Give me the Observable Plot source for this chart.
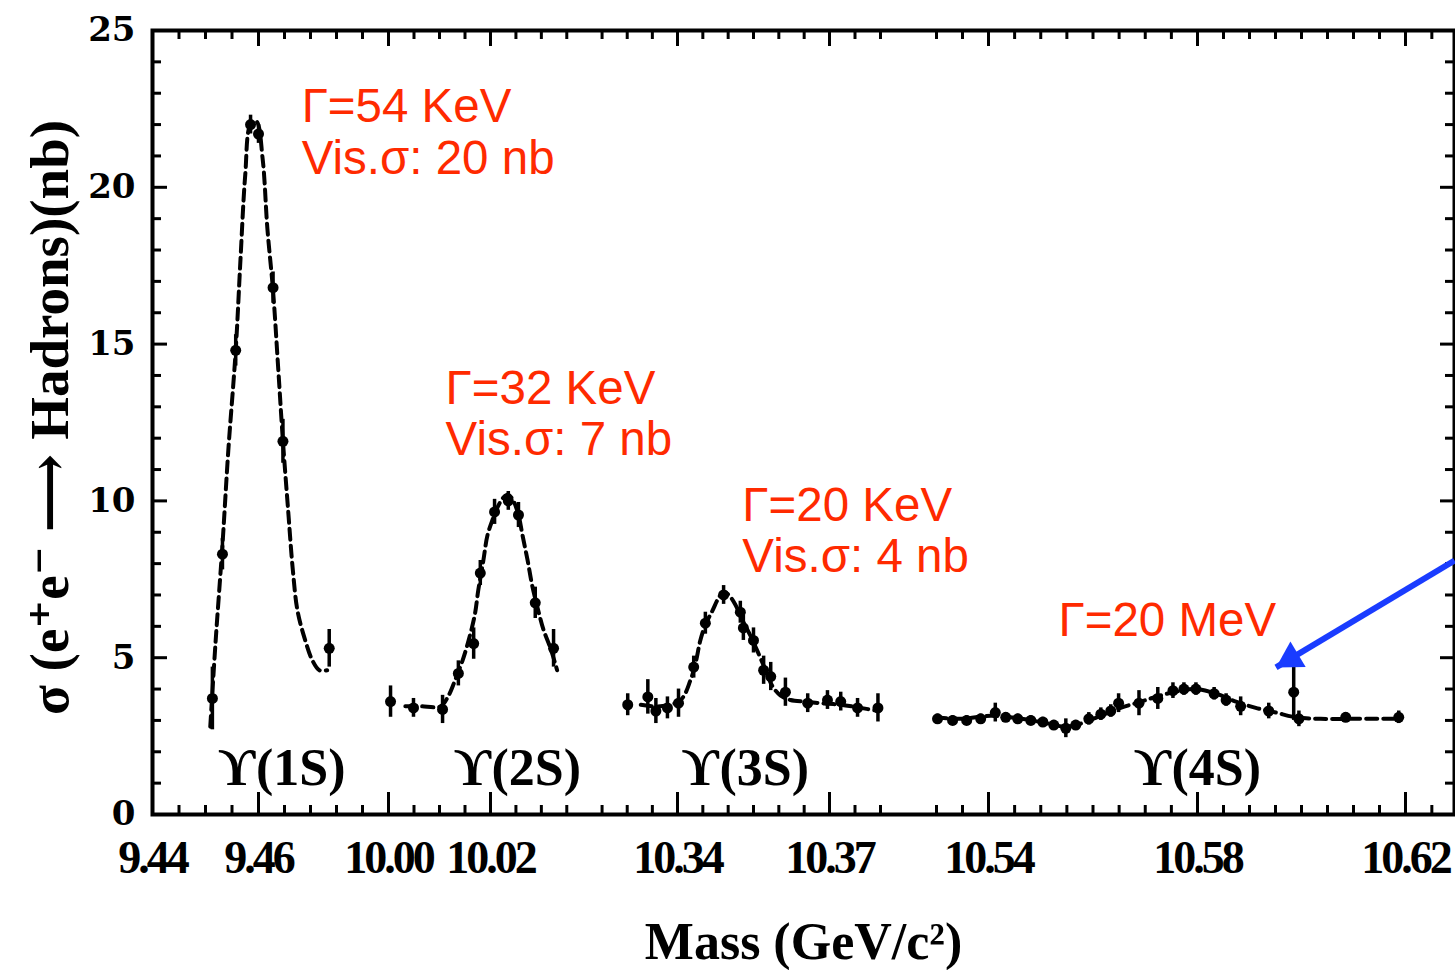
<!DOCTYPE html>
<html><head><meta charset="utf-8">
<script src="https://cdn.jsdelivr.net/npm/d3@7"></script>
<script src="https://cdn.jsdelivr.net/npm/@observablehq/plot@0.6"></script>
<style>
html,body{margin:0;padding:0;background:#fff;overflow:hidden;}
#chart svg{display:block}
g[aria-label="x-axis tick label"] text{letter-spacing:-3px}
</style></head><body><div id="chart"></div>
<script>
// ---- data ----
// Upsilon(1S)
const m1 = [9.4513, 9.4532, 9.4557, 9.4585, 9.4600, 9.4628, 9.4647, 9.4736];
const s1 = [3.7, 8.3, 14.8, 22.0, 21.7, 16.8, 11.9, 5.3];
const e1 = [1.0, 0.5, 0.5, 0.3, 0.3, 0.5, 0.7, 0.6];
const c1m = [9.4509, 9.4519, 9.4532, 9.4543, 9.4557, 9.4566, 9.4575, 9.4585, 9.4596, 9.4608, 9.4617, 9.4628, 9.4638, 9.4647, 9.4657, 9.4666, 9.4675, 9.4689, 9.4704, 9.4717, 9.4732];
const c1s = [2.8, 5.5, 8.6, 11.6, 14.8, 17.7, 20.4, 22.0, 22.1, 20.9, 18.7, 16.7, 14.2, 11.9, 9.7, 7.8, 6.5, 5.6, 4.9, 4.6, 4.6];
// Upsilon(2S)
const m2 = [10.0004, 10.0049, 10.0106, 10.0137, 10.0167, 10.0180, 10.0208, 10.0235, 10.0255, 10.0288, 10.0324];
const s2 = [3.6, 3.4, 3.35, 4.5, 5.45, 7.7, 9.65, 10.0, 9.55, 6.75, 5.3];
const e2 = [0.5, 0.3, 0.45, 0.4, 0.5, 0.4, 0.4, 0.3, 0.4, 0.5, 0.6];
const c2m = [10.0033, 10.0063, 10.0102, 10.0118, 10.0131, 10.0145, 10.0157, 10.0169, 10.0176, 10.0186, 10.0194, 10.0204, 10.0214, 10.0225, 10.0235, 10.0245, 10.0255, 10.0263, 10.0273, 10.0282, 10.0294, 10.0304, 10.0318, 10.0331];
const c2s = [3.45, 3.45, 3.45, 3.8, 4.3, 4.9, 5.55, 6.35, 7.15, 8.1, 8.9, 9.4, 9.8, 10.1, 10.2, 10.0, 9.55, 8.9, 8.1, 7.3, 6.5, 5.9, 5.3, 4.6];
// Upsilon(3S)
const m3 = [10.3301, 10.3341, 10.3357, 10.3380, 10.3402, 10.3432, 10.3455, 10.3491, 10.3524, 10.3530, 10.3550, 10.3570, 10.3584, 10.3613, 10.3657, 10.3696, 10.3722, 10.3755, 10.3795];
const s3 = [3.5, 3.75, 3.3, 3.4, 3.55, 4.7, 6.1, 7.0, 6.45, 5.95, 5.55, 4.6, 4.4, 3.9, 3.55, 3.65, 3.6, 3.4, 3.4];
const e3 = [0.35, 0.55, 0.4, 0.35, 0.45, 0.35, 0.35, 0.3, 0.35, 0.4, 0.4, 0.45, 0.45, 0.45, 0.3, 0.3, 0.3, 0.3, 0.45];
const c3m = [10.3327, 10.3366, 10.3406, 10.3426, 10.3436, 10.3445, 10.3455, 10.3469, 10.3481, 10.3491, 10.3501, 10.3514, 10.3528, 10.3544, 10.3558, 10.3574, 10.3587, 10.3603, 10.3623, 10.3653, 10.3682, 10.3722, 10.3761, 10.3797];
const c3s = [3.5, 3.45, 3.65, 4.3, 4.85, 5.55, 6.05, 6.5, 6.9, 7.1, 7.0, 6.7, 6.2, 5.7, 5.2, 4.6, 4.1, 3.8, 3.65, 3.6, 3.55, 3.5, 3.4, 3.3];
// Upsilon(4S)
const m4 = [10.5302, 10.5331, 10.5358, 10.5385, 10.5413, 10.5433, 10.5456, 10.5481, 10.5504, 10.5525, 10.5548, 10.5567, 10.5592, 10.5615, 10.5634, 10.5649, 10.5688, 10.5724, 10.5753, 10.5774, 10.5797, 10.5832, 10.5855, 10.5883, 10.5937, 10.5985, 10.5995, 10.6085, 10.6187];
const s4 = [3.05, 3.0, 3.0, 3.05, 3.25, 3.1, 3.05, 3.0, 2.95, 2.85, 2.75, 2.85, 3.05, 3.2, 3.3, 3.55, 3.55, 3.7, 3.95, 4.0, 4.0, 3.85, 3.65, 3.45, 3.3, 3.9, 3.05, 3.1, 3.1];
const e4 = [0.15, 0.15, 0.15, 0.15, 0.3, 0.15, 0.15, 0.15, 0.15, 0.15, 0.3, 0.15, 0.2, 0.2, 0.2, 0.3, 0.4, 0.35, 0.25, 0.2, 0.2, 0.2, 0.2, 0.3, 0.25, 0.9, 0.25, 0.15, 0.2];
const c4m = [10.5298, 10.5346, 10.5404, 10.5442, 10.5500, 10.5548, 10.5577, 10.5615, 10.5653, 10.5692, 10.5730, 10.5768, 10.5797, 10.5836, 10.5874, 10.5912, 10.5951, 10.5989, 10.6037, 10.6095, 10.6190];
const c4s = [3.1, 3.05, 3.15, 3.1, 2.95, 2.8, 2.9, 3.15, 3.4, 3.6, 3.8, 3.95, 4.0, 3.85, 3.6, 3.4, 3.25, 3.1, 3.05, 3.05, 3.05];

// axis ticks
const xLabelTicks = [9.44, 9.46, 10.00, 10.02, 10.34, 10.37, 10.54, 10.58, 10.62];
const xMinorTicks = [9.445, 9.45, 9.455, 9.465, 9.47, 9.475, 9.48,
  10.005, 10.01, 10.015, 10.025, 10.03, 10.035,
  10.325, 10.33, 10.335, 10.345, 10.35, 10.355, 10.36, 10.365, 10.375, 10.38,
  10.53, 10.535, 10.545, 10.55, 10.555, 10.56, 10.565, 10.57, 10.575, 10.585, 10.59, 10.595, 10.6, 10.605, 10.61, 10.615, 10.625];
const yMajorTicks = [0, 5, 10, 15, 20, 25];
const yMinorTicks = [1,2,3,4,6,7,8,9,11,12,13,14,16,17,18,19,21,22,23,24];

// annotations
const stateNames = ["ϒ(1S)", "ϒ(2S)", "ϒ(3S)", "ϒ(4S)"];
const stateMass = [9.4645, 10.0253, 10.3534, 10.58];
const stateNb = [0.93, 0.93, 0.93, 0.93];
const noteText = ["Γ=54 KeV\nVis.σ: 20 nb", "Γ=32 KeV\nVis.σ: 7 nb", "Γ=20 KeV\nVis.σ: 4 nb", "Γ=20 MeV"];
const noteMass = [9.4683, 10.0112, 10.3528, 10.5534];
const noteNb = [23.23, 14.26, 10.53, 6.86];
const arrowMass = [10.6293, 10.5951];
const arrowNb = [8.10, 4.69];
const xTitle = "Mass (GeV/c²)";
const yTitle = "σ (e⁺e⁻ ⟶ Hadrons)(nb)";

// broken mass axis: piecewise-linear scale
const massBreaks = [9.44, 9.46, 9.485, 10.00, 10.02, 10.0375, 10.3225, 10.34, 10.37, 10.38, 10.52, 10.54, 10.58, 10.62, 10.6293];
const pixelBreaks = [152, 258, 388, 388, 490, 579, 589, 677, 829, 880, 884, 988, 1197, 1405, 1454];

// ---- build tables ----
const points = [[m1,s1,e1],[m2,s2,e2],[m3,s3,e3],[m4,s4,e4]]
  .flatMap(([m,s,e]) => m.map((v,i) => ({mass: v, nb: s[i], err: e[i]})));
const curves = [[c1m,c1s],[c2m,c2s],[c3m,c3s],[c4m,c4s]]
  .flatMap(([m,s],k) => m.map((v,i) => ({mass: v, nb: s[i], seg: k})));
const states = stateNames.map((t,i) => ({text: t, mass: stateMass[i], nb: stateNb[i]}));
const notes = noteText.map((t,i) => ({text: t, mass: noteMass[i], nb: noteNb[i]}));
const arrow = [{x1: arrowMass[0], y1: arrowNb[0], x2: arrowMass[1], y2: arrowNb[1]}];

const W = 1455, H = 970, mT = 30, mB = 156, mL = 152, mR = 1;
const fh = H - mT - mB, fw = W - mL - mR;
const red = "#ff2a00", blue = "#1a3cff";
const serif = "Liberation Serif, DejaVu Serif, Times New Roman, serif";

const chart = Plot.plot({
  width: W, height: H,
  marginTop: mT, marginBottom: mB, marginLeft: mL, marginRight: mR,
  x: {type: "linear", domain: massBreaks, range: pixelBreaks},
  y: {domain: [0, 25]},
  style: {background: "white", color: "black"},
  marks: [
    Plot.frame({stroke: "black", strokeWidth: 4}),
    // inward ticks
    Plot.ruleX(xMinorTicks, {x: d => d, insetTop: fh - 9, strokeWidth: 3}),
    Plot.ruleX(xLabelTicks, {x: d => d, insetTop: fh - 22, strokeWidth: 3}),
    Plot.ruleX(xMinorTicks, {x: d => d, insetBottom: fh - 9, strokeWidth: 3}),
    Plot.ruleX(xLabelTicks, {x: d => d, insetBottom: fh - 16, strokeWidth: 3}),
    Plot.ruleY(yMinorTicks, {y: d => d, insetRight: fw - 9, strokeWidth: 3}),
    Plot.ruleY(yMajorTicks, {y: d => d, insetRight: fw - 15, strokeWidth: 3}),
    Plot.ruleY(yMinorTicks, {y: d => d, insetLeft: fw - 9, strokeWidth: 3}),
    Plot.ruleY(yMajorTicks, {y: d => d, insetLeft: fw - 14, strokeWidth: 3}),
    // tick labels
    Plot.axisX(xLabelTicks, {anchor: "bottom", tickSize: 0, tickPadding: 26, tickFormat: d3.format(".2f"),
      fontSize: 46, fontWeight: "bold", fontFamily: serif, fill: "black", label: null}),
    Plot.axisY(yMajorTicks, {anchor: "left", tickSize: 0, tickPadding: 17, tickFormat: d3.format("d"),
      fontSize: 34, fontWeight: "bold", fontFamily: "DejaVu Serif, serif", fill: "black", label: null}),
    // axis titles
    Plot.text([xTitle], {text: d => d, frameAnchor: "bottom", lineAnchor: "bottom", dy: 144,
      fontSize: 52, fontWeight: "bold", fontFamily: serif, fill: "black"}),
    Plot.text([yTitle], {text: d => d, frameAnchor: "left", textAnchor: "middle", lineAnchor: "middle",
      rotate: -90, dx: -102, dy: -5,
      fontSize: 55, fontWeight: "bold", fontFamily: serif, fill: "black"}),
    // data
    Plot.line(curves, {x: "mass", y: "nb", z: "seg", stroke: "black", strokeWidth: 4,
      strokeDasharray: "11,6", curve: "catmull-rom"}),
    Plot.ruleX(points, {x: "mass", y1: d => d.nb - d.err, y2: d => d.nb + d.err, strokeWidth: 3.5}),
    Plot.dot(points, {x: "mass", y: "nb", r: 5.5, fill: "black", stroke: null}),
    // labels
    Plot.text(states, {x: "mass", y: "nb", text: "text", textAnchor: "middle", lineAnchor: "bottom",
      fontSize: 52, fontWeight: "bold", fontFamily: serif, fill: "black"}),
    Plot.text(notes, {x: "mass", y: "nb", text: "text", textAnchor: "start", lineAnchor: "top",
      fontSize: 47.5, lineHeight: 1.08, fontFamily: "Liberation Sans, Arial, sans-serif", fill: red}),
    // blue arrow
    Plot.link(arrow, {x1: "x1", y1: "y1", x2: "x2", y2: "y2", stroke: blue, strokeWidth: 6}),
    Plot.dot(arrow, {x: "x2", y: "y2", symbol: "triangle", r: 11, fill: blue, stroke: null,
      rotate: 239, dx: 14.7, dy: -8.8})
  ]
});
document.getElementById("chart").appendChild(chart);
</script>
</body></html>
